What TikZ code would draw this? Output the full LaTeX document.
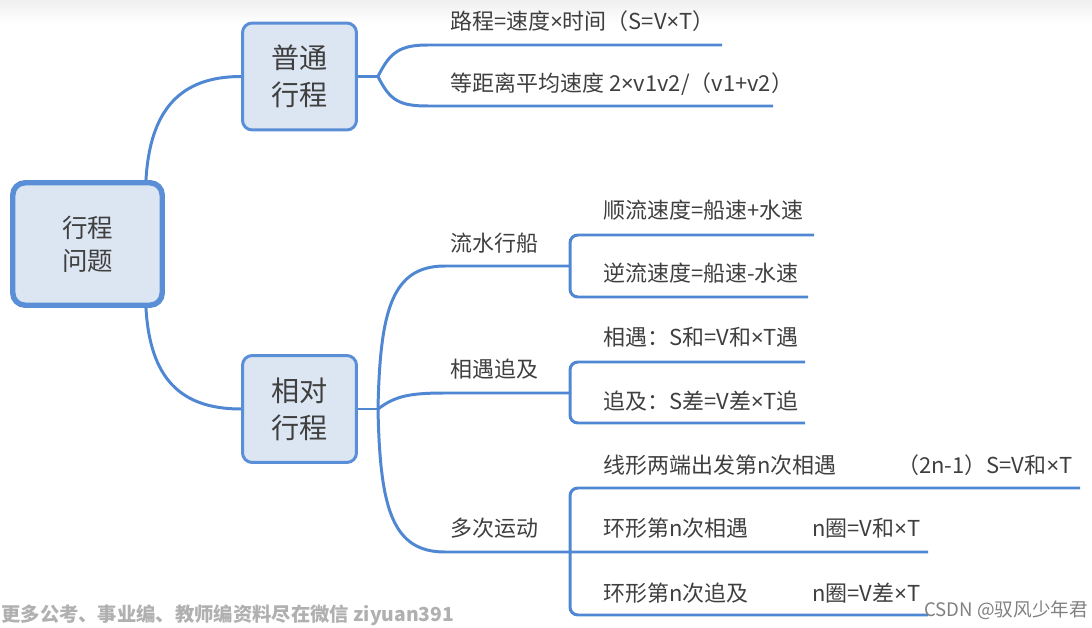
\documentclass[tikz,border=0pt]{standalone}
\usepackage{fontspec}
\setmainfont{Noto Sans CJK SC}
\newfontfamily\latinfont{Noto Sans}
\newcommand{\mul}{{\latinfont ×}}
\usetikzlibrary{positioning,calc}
\definecolor{LineBlue}{HTML}{4F87D2}
\definecolor{BoxFill}{HTML}{DCE6F2}
\definecolor{BoxEdge}{HTML}{5A8FD8}
\definecolor{InkGray}{HTML}{3F3F3F}
\definecolor{MarkGray}{HTML}{B0B0B0}

\begin{document}
\begin{tikzpicture}[x=0.02cm,y=-0.02cm,
    every node/.style={text=InkGray,inner sep=0pt},
    topicbox/.style={draw=BoxEdge,fill=BoxFill,rounded corners=5.5pt,line width=1.7pt,minimum width=2.28cm,minimum height=2.14cm,align=center,font=\fontsize{16}{21}\selectfont},
    rootbox/.style={topicbox,line width=3.1pt,rounded corners=7pt,minimum width=2.99cm,minimum height=2.45cm,font=\fontsize{14.5}{19}\selectfont},
    leaf/.style={anchor=west,font=\fontsize{12.5}{15}\selectfont},
    branch/.style={LineBlue,line width=1.7pt},
    bracket/.style={branch,rounded corners=4.5pt}
  ]
    \useasboundingbox (0,0) rectangle (1092,628);
    \shade[top color=black!6,bottom color=white] (0,0) rectangle (1092,24);

    % topics
    \node[rootbox] (trip) at (87.5,244) {行程\\问题};
    \node[topicbox] (plain) at (299.5,76.5) {普通\\行程};
    \node[topicbox] (rel) at (299.5,409) {相对\\行程};

    \coordinate (j1) at (378,76.5);
    \coordinate (j2) at (378,409);
    \draw[branch] ($(trip.north east)+(-19,0)$) .. controls (150,110) and (180,76.5) .. (plain.west);
    \draw[branch] ($(trip.south east)+(-19,0)$) .. controls (150,378) and (180,409) .. (rel.west);
    \draw[branch] (plain.east) -- (j1);
    \draw[branch] (rel.east) -- (j2);

    % 普通行程
    \node[leaf] (l1) at (450,21) {路程=速度\mul 时间（S=V\mul T）};
    \node[leaf] (l2) at (450,84) {等距离平均速度 2\mul v1v2/（v1+v2）};
    \coordinate (u1) at (722,45);
    \coordinate (u2) at (773,106);
    \draw[branch] (j1) .. controls (390,52) and (400,45) .. (428,45) -- (u1);
    \draw[branch] (j1) .. controls (390,101) and (400,106) .. (428,106) -- (u2);

    % 相对行程
    \node[leaf] (b1) at (450,243) {流水行船};
    \node[leaf] (b2) at (450,369) {相遇追及};
    \node[leaf] (b3) at (450,528) {多次运动};
    \coordinate (k1) at (570,266);
    \coordinate (k2) at (570,393);
    \coordinate (k3) at (928,552);
    \draw[branch] (j2) .. controls (380,310) and (392,266) .. (445,266) -- (k1);
    \draw[branch] (j2) .. controls (395,396) and (410,393) .. (445,393) -- (k2);
    \draw[branch] (j2) .. controls (380,508) and (392,552) .. (445,552) -- (k3);

    \node[leaf] (s1) at (603,210) {顺流速度=船速+水速};
    \node[leaf] (s2) at (603,273) {逆流速度=船速-水速};
    \node[leaf] (s3) at (603,337) {相遇：S和=V和\mul T遇};
    \node[leaf] (s4) at (603,401) {追及：S差=V差\mul T追};
    \node[leaf] (s5) at (603,465) {线形两端出发第n次相遇};
    \node[leaf] (f5) at (897,465) {（2n-1）S=V和\mul T};
    \node[leaf] (s6) at (603,528) {环形第n次相遇};
    \node[leaf] (f6) at (812,528) {n圈=V和\mul T};
    \node[leaf] (s7) at (603,593) {环形第n次追及};
    \node[leaf] (f7) at (812,593) {n圈=V差\mul T};

    \draw[bracket] (814,235) -- (570,235) -- (570,297) -- (808,297);
    \draw[bracket] (805,362) -- (570,362) -- (570,423) -- (805,423);
    \draw[bracket] (1080,488) -- (570,488) -- (570,615) -- (928,615);

    % watermarks
    \node[anchor=west,text=MarkGray,font=\bfseries\fontsize{11}{13}\selectfont] (wm) at (1,615) {更多公考、事业编、教师编资料尽在微信 ziyuan391};
    \node[anchor=west,text=black!50,font=\fontsize{10.6}{13}\selectfont] (csdn) at (924,610) {CSDN @驭风少年君};
\end{tikzpicture}
\end{document}
